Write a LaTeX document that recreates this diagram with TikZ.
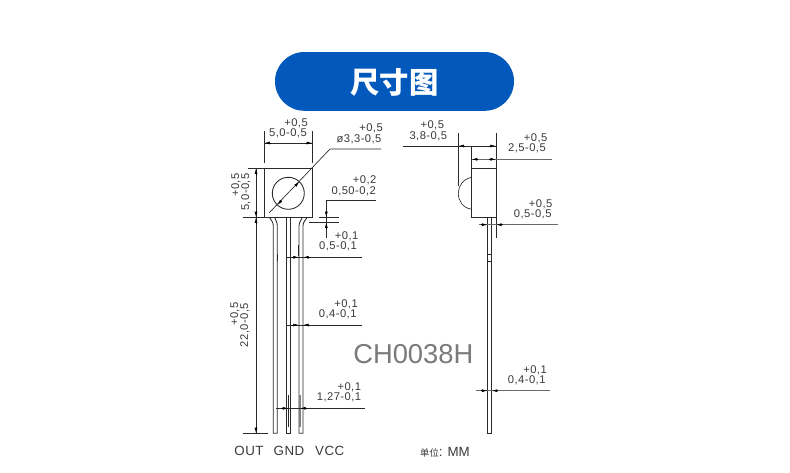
\documentclass[tikz,border=0pt]{standalone}
\usepackage{fontspec}
\setmainfont{Liberation Sans}
\newfontfamily\cjkfont{Noto Sans CJK SC}
\usetikzlibrary{arrows.meta}
\definecolor{pillblue}{HTML}{0358BC}
\definecolor{ink}{HTML}{2A2A2A}
\definecolor{dimtext}{HTML}{3A3A3A}
\tikzset{
  part/.style={draw=ink,line width=0.65pt},
  thin part/.style={draw=ink,line width=0.5pt},
  dimline/.style={draw=ink,line width=0.5pt},
  leader/.style={draw=ink!70,line width=0.7pt},
  tip/.style={draw=black,line width=0.5pt,-{Latex[length=4.2pt,width=2.2pt]}},
  dimlabel/.style={font=\fontsize{8.4}{10}\selectfont\addfontfeature{LetterSpace=4},text=dimtext,inner sep=0pt,anchor=center},
  pinlabel/.style={font=\fontsize{10}{12}\selectfont\addfontfeature{LetterSpace=4},text=dimtext,inner sep=0pt,anchor=center},
}
\begin{document}
\begin{tikzpicture}[x=0.75pt,y=-0.75pt]
\useasboundingbox (0,0) rectangle (790,472);
\fill[white] (0,0) rectangle (790,472);
% title
\fill[pillblue,rounded corners=22pt] (275,52) rectangle (514,110.8);
\node[font=\cjkfont\bfseries\fontsize{22}{24}\selectfont,text=white,inner sep=0pt] (title) at (394.5,82) {尺寸图};

% ---- front view
\draw[part] (264.3,168.3) rectangle (312.3,217.3);
\draw[part] (288.3,193.3) circle[radius=16];
\draw[dimline] (269,213) -- (330,149) -- (381,149);
\draw[tip] (295.2,186) -- (299.3,181.7);
\draw[tip] (281.4,200.6) -- (277.3,204.9);
% leads
\draw[part] (269.5,217.3) .. controls (271,220) and (273.3,222) .. (273.3,226) -- (273.3,433.3) -- (277.3,433.3) -- (277.3,226) .. controls (277.3,222) and (275.5,220) .. (274.5,217.3);
\draw[part] (286.3,217.3) -- (286.3,433.3) -- (290.3,433.3) -- (290.3,217.3);
\draw[part] (307.3,217.3) .. controls (305.5,220) and (303,222) .. (303,226) -- (303,433.3) -- (299,433.3) -- (299,226) .. controls (299,222) and (301.5,220) .. (302.5,217.3);
\draw[thin part] (277.8,254) -- (277.8,261);
\draw[thin part] (298.3,245) -- (298.3,256);
\draw[thin part] (288.3,395) -- (288.3,427);
\draw[draw=ink!60,line width=1pt] (300,395) -- (300,427);
% top dimension
\draw[dimline] (264.3,131) -- (264.3,163) (312.3,131) -- (312.3,163);
\draw[dimline] (264.3,143) -- (312.3,143);
\draw[tip] (271,143) -- (264.3,143);
\draw[tip] (305.6,143) -- (312.3,143);
\node[dimlabel] (fa) at (296,123) {+0,5};
\node[dimlabel] (fb) at (288,133) {5,0-0,5};
\node[dimlabel] (fc) at (371,128) {+0,5};
\node[dimlabel] (fd) at (359,139) {ø3,3-0,5};
% left dimension
\draw[dimline] (248,168.3) -- (264.3,168.3) (243,217.3) -- (264.3,217.3) (243,433.3) -- (268,433.3);
\draw[dimline] (256,168.3) -- (256,433.3);
\draw[tip] (256,175) -- (256,168.3);
\draw[tip] (256,210.6) -- (256,217.3);
\draw[tip] (256,224) -- (256,217.3);
\draw[tip] (256,426.6) -- (256,433.3);
\node[dimlabel,rotate=90] (la) at (236,185) {+0,5};
\node[dimlabel,rotate=90] (lb) at (246,192) {5,0-0,5};
\node[dimlabel,rotate=90] (lc) at (235,314) {+0,5};
\node[dimlabel,rotate=90] (ld) at (245,325) {22,0-0,5};
% 0,50 dimension
\draw[dimline] (319,217.3) -- (339,217.3) (309,222.3) -- (339,222.3);
\draw[dimline] (375.7,200.7) -- (326.3,200.7) -- (326.3,237.7);
\draw[tip] (326.3,210.6) -- (326.3,217.3);
\draw[tip] (326.3,229) -- (326.3,222.3);
\node[dimlabel] (ga) at (364.7,180.7) {+0,2};
\node[dimlabel] (gb) at (353.7,191) {0,50-0,2};
% lead dimensions
\node[dimlabel] (ha) at (346.7,236.7) {+0,1};
\node[dimlabel] (hb) at (338,246.7) {0,5-0,1};
\draw[dimline] (286.3,257.3) -- (361.7,257.3);
\draw[tip] (292.3,257.3) -- (299,257.3);
\draw[tip] (309.7,257.3) -- (303,257.3);
\node[dimlabel] (ia) at (346,304) {+0,1};
\node[dimlabel] (ib) at (337.7,314.3) {0,4-0,1};
\draw[dimline] (286.3,325) -- (361.7,325);
\draw[tip] (292.3,325) -- (299,325);
\draw[tip] (309.7,325) -- (303,325);
\node[dimlabel] (ja) at (349.3,387.3) {+0,1};
\node[dimlabel] (jb) at (339,397.7) {1,27-0,1};
\draw[dimline] (276,408.3) -- (365,408.3);
\draw[tip] (281.6,408.3) -- (288.3,408.3);
\draw[tip] (306.7,408.3) -- (300,408.3);
% pin names
\node[pinlabel] (p1) at (249,451) {OUT};
\node[pinlabel] (p2) at (289,451) {GND};
\node[pinlabel] (p3) at (329.7,451) {VCC};

% ---- side view
\draw[part] (471.7,168.3) rectangle (496,217.3);
\draw[thin part] (471.7,177.3) .. controls (463,179) and (458.3,186) .. (458.3,193.3) .. controls (458.3,201) and (463,208) .. (471.7,209.3);
\draw[part] (487.5,217.3) -- (487.5,433.3) -- (491.7,433.3) -- (491.7,217.3);
\draw[thin part] (487.5,254.7) -- (491.7,254.7) (487.5,261.7) -- (491.7,261.7);
\draw[dimline] (458.3,133) -- (458.3,186) (496,133) -- (496,168.3) (471.7,146) -- (471.7,168.3);
\draw[dimline] (403,146) -- (496,146);
\draw[tip] (465,146) -- (458.3,146);
\draw[tip] (489.3,146) -- (496,146);
\draw[leader] (471.7,159.3) -- (552,159.3);
\draw[tip] (478.4,159.3) -- (471.7,159.3);
\draw[tip] (489.3,159.3) -- (496,159.3);
\node[dimlabel] (sa) at (432.3,125.7) {+0,5};
\node[dimlabel] (sb) at (428.3,136) {3,8-0,5};
\node[dimlabel] (sc) at (535.7,138.3) {+0,5};
\node[dimlabel] (sd) at (527,148.3) {2,5-0,5};
\node[dimlabel] (se) at (540.7,204) {+0,5};
\node[dimlabel] (sf) at (532.7,214) {0,5-0,5};
\draw[dimline] (496,217.3) -- (496,237.7);
\draw[leader] (479.3,224.7) -- (557.7,224.7);
\draw[tip] (481,224.7) -- (487.5,224.7);
\draw[tip] (502.7,224.7) -- (496,224.7);
\draw[leader] (475.7,390.7) -- (550.3,390.7);
\draw[tip] (481,390.7) -- (487.5,390.7);
\draw[tip] (498.4,390.7) -- (491.7,390.7);
\node[dimlabel] (ta) at (535,370.7) {+0,1};
\node[dimlabel] (tb) at (526.7,380.7) {0,4-0,1};

% model and unit
\node[font=\fontsize{20.5}{24}\selectfont,text=black!52,inner sep=0pt] (model) at (413.3,354) {CH0038H};
\node[font=\fontsize{10}{11}\selectfont,text=dimtext,inner sep=0pt] (unit) at (445,452) {{\cjkfont\fontsize{7}{9}\selectfont 单位}: MM};
\end{tikzpicture}
\end{document}
